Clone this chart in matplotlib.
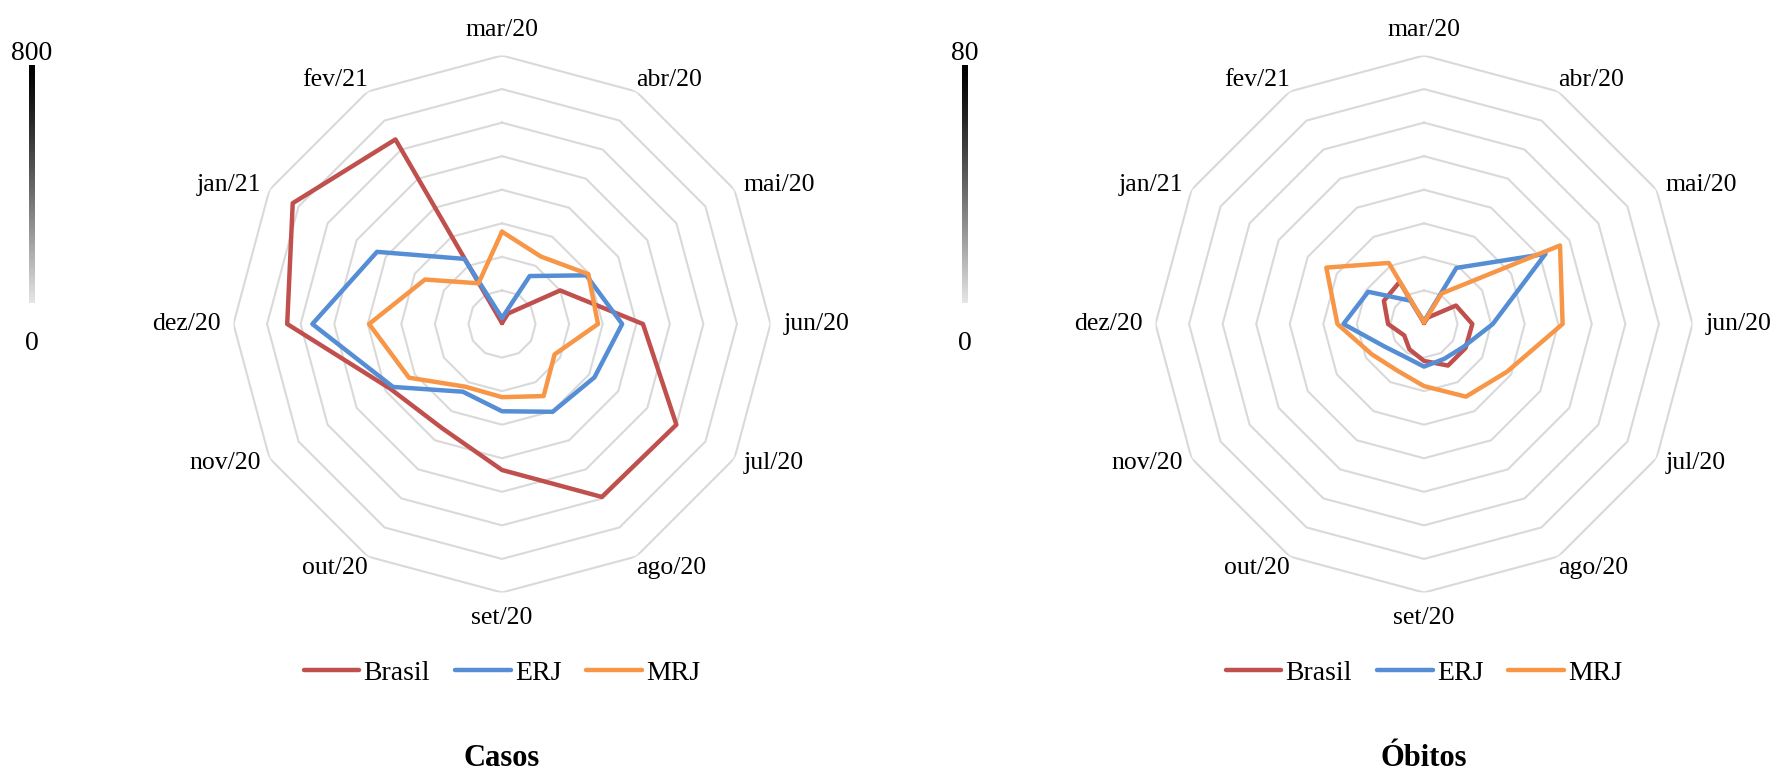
import numpy as np
import matplotlib.pyplot as plt

plt.rcParams['font.family'] = 'Liberation Serif'

meses = ['mar/20', 'abr/20', 'mai/20', 'jun/20', 'jul/20', 'ago/20',
         'set/20', 'out/20', 'nov/20', 'dez/20', 'jan/21', 'fev/21']

# casos por 100 mil hab.
casos_brasil = [3, 36, 200, 420, 600, 595, 435, 358, 385, 640, 720, 635]
casos_erj = [18, 165, 290, 358, 318, 302, 260, 233, 375, 565, 430, 224]
casos_mrj = [275, 232, 297, 286, 181, 248, 218, 216, 320, 396, 265, 140]

# óbitos por 100 mil hab.
obitos_brasil = [0.3, 2.2, 11.0, 14.4, 14.3, 14.3, 11.0, 8.7, 6.8, 10.7, 13.8, 14.5]
obitos_erj = [0.8, 19.3, 41.8, 20.5, 13.6, 12.0, 12.7, 11.3, 13.5, 24.0, 19.2, 8.0]
obitos_mrj = [0.5, 10.5, 46.8, 41.3, 28.5, 25.0, 18.5, 16.0, 18.0, 25.8, 33.6, 21.0]

series = ['Brasil', 'ERJ', 'MRJ']
cores = ['#C0504D', '#558ED5', '#F79646']

W, H = 1784, 773
fig = plt.figure(figsize=(W / 100, H / 100), dpi=100)

R = 268.5  # raio do anel externo em pixels
N_ANEIS = 8


def radar(cx, cy, valores, vmax, titulo):
    ax = fig.add_axes([(cx - R) / W, 1 - (cy + R) / H, 2 * R / W, 2 * R / H],
                      projection='polar')
    ax.set_theta_zero_location('N')
    ax.set_theta_direction(-1)
    ax.set_ylim(0, vmax)
    ax.axis('off')

    ang = np.linspace(0, 2 * np.pi, len(meses), endpoint=False)
    ang_f = np.append(ang, ang[0])

    # aneis poligonais
    for k in range(1, N_ANEIS + 1):
        ax.plot(ang_f, np.full(len(ang_f), vmax * k / N_ANEIS),
                color='#d9d9d9', lw=1.5, zorder=1)

    # rótulos dos meses
    for a, mes in zip(ang, meses):
        s, c = np.sin(a), np.cos(a)  # s: horizontal, c: vertical
        if abs(s) < 0.1:
            ha, va, pad = 'center', ('bottom' if c > 0 else 'top'), 15
        elif abs(c) < 0.1:
            ha, va, pad = ('left' if s > 0 else 'right'), 'center', 13
        elif abs(c) < 0.6:
            ha, va, pad = ('left' if s > 0 else 'right'), 'center', 10
        else:
            ha, va, pad = ('left' if s > 0 else 'right'), ('bottom' if c > 0 else 'top'), 0
        ax.annotate(mes, xy=(a, vmax), xytext=(s * pad, c * pad),
                    textcoords='offset pixels', ha=ha, va=va, fontsize=18.5,
                    annotation_clip=False)

    for nome, cor, v in zip(series, cores, valores):
        ax.plot(ang_f, np.append(v, v[0]), color=cor, lw=3.2, label=nome,
                solid_joinstyle='round', solid_capstyle='round', zorder=3)

    ax.legend(loc='center', bbox_to_anchor=(cx / W, 1 - 673 / H),
              bbox_transform=fig.transFigure, ncol=3, frameon=False,
              fontsize=20, handlelength=2.0, handletextpad=0.15,
              columnspacing=0.9, borderaxespad=0)

    fig.text(cx / W, 1 - 758 / H, titulo, ha='center', va='center',
             fontsize=22, fontweight='bold')


def escala(x, topo, vmax):
    bar = fig.add_axes([(x - 3) / W, 1 - 303 / H, 6 / W, (303 - 65) / H])
    t = np.linspace(0, 1, 200)
    tons = 0.9 * t ** 1.2
    bar.imshow(tons[:, None], cmap='gray', vmin=0, vmax=1, aspect='auto',
               interpolation='bilinear')
    bar.axis('off')
    fig.text(x / W, 1 - 54 / H, topo, ha='center', va='center', fontsize=20)
    fig.text(x / W, 1 - 344 / H, '0', ha='center', va='center', fontsize=20)


radar(502, 324, [casos_brasil, casos_erj, casos_mrj], 800, 'Casos')
radar(1424, 324, [obitos_brasil, obitos_erj, obitos_mrj], 80, 'Óbitos')

escala(32, '800', 800)
escala(965, '80', 80)

fig.savefig('out.png', dpi=100, facecolor='white')
